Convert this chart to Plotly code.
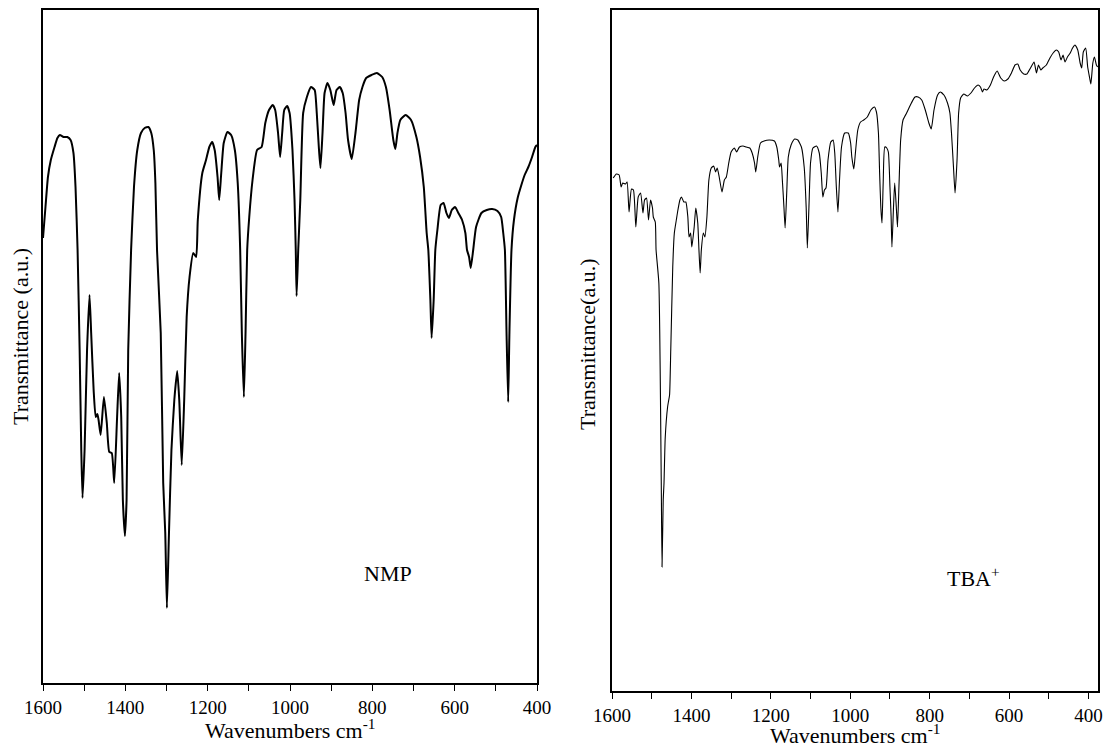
import plotly.graph_objects as go

# ---------------- data ----------------
nmp_wn = [1600, 1594, 1588, 1581, 1572, 1565, 1559, 1550, 1541, 1533, 1526, 1521, 1516, 1511, 1507,
          1504, 1499, 1493, 1487, 1483, 1477, 1472, 1468, 1465, 1460, 1452, 1445, 1439, 1433, 1427,
          1420, 1415, 1410, 1406, 1401, 1397, 1393, 1386, 1379, 1371, 1362, 1353, 1344, 1337, 1331,
          1327, 1323, 1314, 1308, 1303, 1299, 1294, 1288, 1281, 1274, 1269, 1263, 1257, 1251, 1244,
          1235, 1228, 1224, 1213, 1204, 1196, 1189, 1183, 1176, 1172, 1167, 1161, 1152, 1143, 1134,
          1127, 1121, 1117, 1112, 1108, 1104, 1099, 1091, 1080, 1069, 1060, 1051, 1042, 1036, 1029,
          1024, 1019, 1014, 1007, 1001, 994, 989, 986, 984, 980, 975, 968, 959, 949, 940,
          935, 930, 926, 921, 916, 909, 902, 894, 887, 879, 872, 865, 859, 850, 841,
          832, 824, 815, 802, 789, 776, 767, 758, 749, 744, 739, 732, 719, 706, 693,
          684, 675, 668, 664, 659, 656, 651, 647, 642, 634, 627, 620, 614, 607, 599,
          591, 582, 574, 570, 565, 561, 555, 548, 535, 522, 509, 496, 487, 482, 478,
          474, 470, 467, 462, 456, 447, 438, 430, 421, 412, 404, 400]
nmp_t = [445, 476, 506, 523, 536, 545, 548, 546, 546, 543, 530, 496, 433, 333, 233,
         185, 233, 333, 388, 350, 293, 266, 269, 263, 248, 286, 260, 231, 230, 200,
         266, 310, 266, 183, 147, 183, 333, 433, 496, 533, 550, 555, 556, 550, 533,
         500, 433, 350, 200, 150, 75, 150, 233, 283, 312, 283, 218, 283, 366, 406,
         430, 426, 463, 510, 523, 536, 541, 533, 506, 483, 510, 540, 551, 548, 533,
         500, 433, 350, 286, 350, 433, 466, 503, 533, 536, 560, 573, 578, 573, 550,
         526, 550, 573, 577, 570, 533, 483, 433, 387, 433, 483, 570, 586, 596, 593,
         570, 536, 515, 550, 590, 600, 593, 578, 593, 596, 590, 570, 543, 524, 550,
         583, 596, 605, 608, 610, 606, 596, 573, 543, 534, 550, 563, 568, 563, 546,
         526, 496, 450, 433, 383, 345, 383, 433, 453, 478, 480, 470, 465, 473, 476,
         470, 463, 450, 433, 426, 415, 433, 456, 470, 473, 474, 472, 466, 450, 433,
         350, 281, 350, 433, 463, 485, 498, 508, 516, 526, 536, 538]

tba_wn = [1597, 1589, 1582, 1577, 1573, 1566, 1562, 1557, 1551, 1546, 1540, 1534, 1528, 1522, 1518,
          1513, 1508, 1503, 1498, 1496, 1491, 1489, 1482, 1476, 1474, 1471, 1469, 1466, 1460, 1458,
          1455, 1452, 1447, 1443, 1438, 1434, 1429, 1425, 1419, 1414, 1409, 1406, 1402, 1399, 1393,
          1389, 1384, 1381, 1378, 1375, 1370, 1366, 1361, 1356, 1350, 1344, 1339, 1335, 1330, 1323,
          1317, 1312, 1306, 1300, 1292, 1286, 1279, 1270, 1262, 1253, 1247, 1241, 1238, 1233, 1226,
          1217, 1204, 1191, 1185, 1180, 1178, 1174, 1171, 1167, 1164, 1160, 1156, 1149, 1140, 1132,
          1123, 1116, 1111, 1108, 1104, 1100, 1094, 1085, 1078, 1073, 1069, 1065, 1061, 1056, 1049,
          1043, 1039, 1035, 1031, 1027, 1022, 1014, 1005, 999, 996, 991, 987, 981, 974, 966,
          957, 948, 939, 934, 929, 926, 923, 920, 917, 913, 908, 904, 900, 897, 895,
          891, 888, 884, 881, 877, 873, 867, 858, 846, 837, 829, 820, 811, 802, 796,
          789, 780, 773, 764, 755, 749, 745, 740, 736, 731, 727, 722, 714, 705, 696,
          687, 678, 672, 667, 663, 656, 647, 639, 630, 621, 612, 603, 594, 585, 578,
          572, 563, 555, 546, 537, 531, 526, 520, 515, 506, 497, 489, 481, 475, 469,
          464, 459, 453, 446, 440, 434, 427, 421, 417, 413, 407, 402, 397, 394, 389,
          385, 380, 377]
tba_t = [513, 517, 516, 504, 508, 507, 509, 479, 502, 501, 464, 494, 498, 478, 491,
         493, 471, 491, 483, 474, 469, 441, 408, 211, 124, 191, 208, 253, 284, 289,
         296, 341, 424, 458, 471, 481, 491, 494, 489, 489, 474, 454, 458, 444, 464,
         483, 468, 441, 418, 441, 458, 454, 474, 511, 523, 525, 519, 523, 514, 499,
         511, 514, 528, 539, 543, 539, 544, 545, 544, 543, 538, 528, 519, 534, 548,
         550, 551, 550, 544, 531, 524, 528, 511, 484, 463, 498, 534, 546, 552, 551,
         544, 524, 484, 443, 484, 528, 543, 545, 538, 518, 494, 501, 503, 531, 549,
         551, 538, 504, 479, 511, 544, 558, 558, 548, 534, 522, 538, 561, 569, 571,
         574, 581, 584, 579, 558, 518, 484, 468, 508, 544, 543, 539, 504, 474, 444,
         484, 508, 484, 464, 508, 551, 571, 578, 588, 594, 594, 591, 581, 568, 562,
         581, 596, 599, 596, 588, 578, 558, 524, 498, 531, 578, 593, 597, 595, 598,
         603, 606, 604, 599, 602, 601, 606, 614, 620, 613, 610, 612, 618, 626, 627,
         621, 617, 617, 623, 629, 618, 626, 621, 623, 626, 633, 638, 641, 639, 631,
         636, 629, 634, 638, 643, 646, 641, 628, 623, 639, 643, 624, 613, 607, 628,
         634, 626, 624]

major_ticks = [1600, 1400, 1200, 1000, 800, 600, 400]
tick_labels = ["1600", "1400", "1200", "1000", "800", "600", "400"]
minor_ticks = [1500, 1300, 1100, 900, 700, 500]

FONT = "Liberation Serif"
W, H = 1107, 748

fig = go.Figure()
fig.add_trace(go.Scatter(x=nmp_wn, y=nmp_t, mode="lines",
                         line=dict(color="black", width=2, shape="spline", smoothing=0.5),
                         xaxis="x", yaxis="y", showlegend=False))
fig.add_trace(go.Scatter(x=tba_wn, y=tba_t, mode="lines",
                         line=dict(color="black", width=1.1, shape="spline", smoothing=0.5),
                         xaxis="x2", yaxis="y2", showlegend=False))

def xax(domain, rng, anchor):
    return dict(domain=domain, range=rng, anchor=anchor, automargin=False,
                showgrid=False, zeroline=False,
                showline=True, mirror=True, linecolor="black", linewidth=1.5,
                ticks="outside", ticklen=6, tickwidth=1.3, tickcolor="black",
                tickvals=major_ticks, ticktext=tick_labels,
                tickfont=dict(family=FONT, size=19, color="black"),
                minor=dict(tickvals=minor_ticks, ticks="outside",
                           ticklen=6, tickwidth=1.3, tickcolor="black", showgrid=False))

def yax(domain, rng, anchor):
    return dict(domain=domain, range=rng, anchor=anchor, automargin=False,
                showgrid=False, zeroline=False,
                showline=True, mirror=True, linecolor="black", linewidth=1.5,
                ticks="", showticklabels=False)

fig.update_layout(
    template="none",
    width=W, height=H, margin=dict(l=0, r=0, t=0, b=0, pad=0), autosize=False,
    paper_bgcolor="white", plot_bgcolor="white",
    xaxis=xax([43 / W, 537 / W], [1600, 400], "y"),
    yaxis=yax([1 - 683 / H, 1 - 10 / H], [0, 673], "x"),
    xaxis2=xax([612 / W, 1098 / W], [1600, 376], "y2"),
    yaxis2=yax([1 - 691 / H, 1 - 10 / H], [0, 681], "x2"),
    font=dict(family=FONT, color="black"),
)

tf = dict(family=FONT, size=22, color="black")
ann = [
    dict(text="Transmittance (a.u.)", x=20 / W, y=1 - 337 / H, textangle=-90),
    dict(text="Transmittance(a.u.)", x=588 / W, y=1 - 345 / H, textangle=-90),
    dict(text="Wavenumbers cm<sup>-1</sup>", x=290 / W, y=1 - 729 / H),
    dict(text="Wavenumbers cm<sup>-1</sup>", x=855 / W, y=1 - 734 / H),
]
for a in ann:
    fig.add_annotation(xref="paper", yref="paper", showarrow=False, font=tf,
                       xanchor="center", yanchor="middle", **a)

fig.add_annotation(x=762, y=110, xref="x", yref="y", text="NMP", showarrow=False,
                   font=dict(family=FONT, size=22, color="black"))
fig.add_annotation(x=690, y=114, xref="x2", yref="y2", text="TBA<sup>+</sup>", showarrow=False,
                   font=dict(family=FONT, size=22, color="black"))

fig.write_html("out.html")
